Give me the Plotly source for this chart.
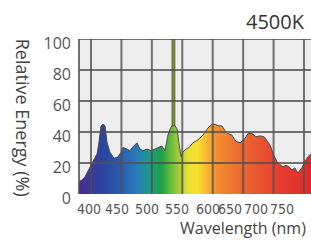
import plotly.graph_objects as go

# ---- data ----
wavelength_nm = [380.3, 385, 390, 395, 400, 405, 410, 413, 416.5, 419.5, 423, 426.5, 431, 438,
                 444.5, 449.5, 452.5, 459, 464, 470.5, 475.5, 480.5, 485.5, 492, 498.5, 505,
                 511.5, 516.5, 521.5, 526.5, 530, 533, 538, 541.5, 544.5, 548, 551, 556, 561,
                 567.5, 576, 584, 592, 599, 604, 608.5, 615, 620, 625, 631.5, 638, 645, 651.5,
                 658, 664.5, 671, 677.5, 684, 691, 696, 699, 705.5, 710.5, 715.5, 720.5, 725.5,
                 730, 735, 740, 746.5, 751.5, 756.5, 761.5]
relative_energy = [8, 9, 11, 15, 19, 22, 26, 33, 44, 45, 44, 33, 27, 23,
                   24, 27, 30, 29, 28, 31, 33, 29, 28, 29, 28, 29,
                   30, 31, 28, 38, 42, 44, 44, 42, 33, 24, 27, 29, 30,
                   33, 35, 38, 42.5, 45, 45, 44, 44, 41, 39, 38, 34, 33, 35,
                   39, 39, 37, 37.5, 37, 33.5, 30, 26, 21, 19, 17.5, 18.5, 17.5,
                   15.5, 16.8, 13.5, 17, 21, 24, 26]

spike_nm = [535.5]
spike_energy = [100]

x_label_pos = [396.7, 442.7, 492, 541.3, 592.2, 628.4, 671.1, 713.8]
x_label_text = ["400", "450", "500", "550", "600", "650", "700", "750"]
grid_nm = [400, 450, 500, 550, 600, 650, 700, 750]
y_ticks = [0, 20, 40, 60, 80, 100]

x_range = [380.3, 761.5]

spectrum_colors = [
    [0.00, "#4a2a8c"],
    [0.05, "#3a3a9a"],
    [0.10, "#2a44a0"],
    [0.18, "#2a5cae"],
    [0.25, "#2a7cbc"],
    [0.30, "#1a9a8a"],
    [0.355, "#1ea04a"],
    [0.39, "#5cb83a"],
    [0.43, "#a8cc3a"],
    [0.47, "#e8e030"],
    [0.51, "#f8e030"],
    [0.55, "#f8b830"],
    [0.59, "#f29030"],
    [0.68, "#ec7030"],
    [0.79, "#e85030"],
    [0.89, "#e43a2e"],
    [1.00, "#e02a2a"],
]

fig = go.Figure()

fig.add_trace(go.Bar(
    x=spike_nm, y=spike_energy, width=[4.5],
    marker=dict(color="#86923f", line=dict(color="#55602a", width=1)),
    showlegend=False, hoverinfo="skip",
))

fig.add_trace(go.Scatter(
    x=wavelength_nm, y=relative_energy, mode="lines",
    line=dict(color="#4a4a4a", width=1),
    fill="tozeroy",
    fillgradient=dict(type="horizontal", colorscale=spectrum_colors,
                      start=x_range[0], stop=x_range[1]),
    showlegend=False, hoverinfo="skip",
))

grid_color = "rgba(80,80,80,0.8)"
shapes = []
for g in grid_nm:
    shapes.append(dict(type="line", xref="x", yref="y", x0=g, x1=g, y0=0, y1=100,
                       line=dict(color=grid_color, width=2), layer="above"))
for t in y_ticks[1:]:
    shapes.append(dict(type="line", xref="paper", yref="y", x0=0, x1=1, y0=t, y1=t,
                       line=dict(color=grid_color, width=2), layer="above"))
shapes.append(dict(type="line", xref="paper", yref="paper", x0=0, x1=0, y0=0, y1=1,
                   line=dict(color=grid_color, width=2), layer="above"))

narrow = "Liberation Sans Narrow, DejaVu Sans Condensed, Arial Narrow, sans-serif"
main_font = "Open Sans, Lato, sans-serif"

fig.update_layout(
    width=311, height=241,
    margin=dict(l=79, r=0, t=39, b=47, autoexpand=False),
    paper_bgcolor="white",
    plot_bgcolor="#eeeeee",
    shapes=shapes,
    hovermode=False,
    xaxis=dict(range=x_range, tickmode="array", tickvals=x_label_pos, ticktext=x_label_text,
               showgrid=False, zeroline=False, showline=False, ticks="",
               tickangle=0, automargin=False,
               tickfont=dict(family=narrow, size=14, color="#555555"),
               ticklabelstandoff=5, fixedrange=True),
    yaxis=dict(range=[0, 100], tickmode="array", tickvals=y_ticks,
               showgrid=False, zeroline=False, showline=False, ticks="",
               automargin=False,
               tickfont=dict(family=main_font, size=16, color="#555555"),
               ticklabelshift=4, ticklabelstandoff=7, fixedrange=True),
    annotations=[
        dict(text="4500K", xref="paper", yref="paper", x=0.849, y=1.11,
             xanchor="center", yanchor="middle", showarrow=False,
             font=dict(family=main_font, size=20, color="#333333")),
        dict(text="Wavelength (nm)", xref="paper", yref="paper", x=0.707, y=-0.22,
             xanchor="center", yanchor="middle", showarrow=False,
             font=dict(family=main_font, size=16, color="#444444")),
        dict(text="Relative Energy (%)", xref="paper", yref="paper", x=-0.24, y=0.49,
             xanchor="center", yanchor="middle", showarrow=False, textangle=90,
             font=dict(family=main_font, size=18, color="#444444")),
    ],
)

fig.write_html(
    "out.html",
    config={"displayModeBar": False, "staticPlot": True},
    post_script=(
        "document.body.style.margin='0';"
        "document.documentElement.style.overflow='hidden';"
        "document.body.style.overflow='hidden';"
    ),
)
